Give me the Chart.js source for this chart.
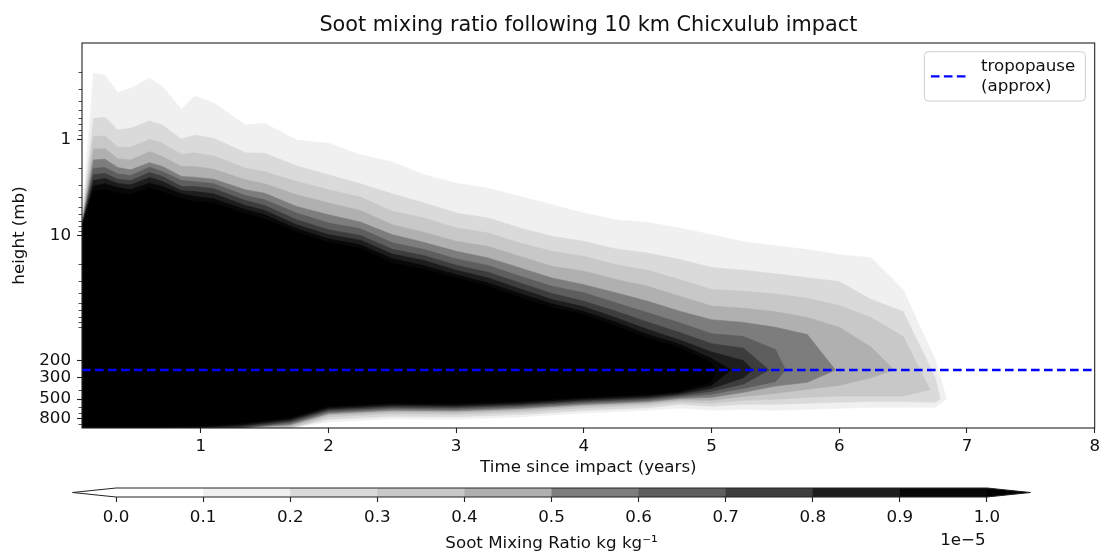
<!DOCTYPE html>
<html>
<head>
<meta charset="utf-8">
<script src="https://cdn.jsdelivr.net/npm/chart.js@4.4.1/dist/chart.umd.min.js"></script>
<style>
  html, body { margin: 0; padding: 0; background: #fff; }
  #wrap { position: relative; width: 1104px; height: 554px; }
  #main { position: absolute; left: 0; top: 0; }
  #cbar { position: absolute; left: 0; top: 480px; }
</style>
</head>
<body>
<div id="wrap">
  <canvas id="main" width="1104" height="480"></canvas>
  <canvas id="cbar" width="1104" height="74"></canvas>
</div>
<script>
// ======================= DATA =======================
// time grid for the upper contour edges (years) and pressures (mb) of each level
const years = [0.07, 0.16, 0.25, 0.35, 0.45, 0.6, 0.7, 0.85, 0.95, 1.1, 1.35, 1.5, 1.75, 2.0, 2.25, 2.5, 2.75,
  3.0, 3.25, 3.5, 3.75, 4.0, 4.25, 4.5, 4.75, 5.0, 5.25, 5.5, 5.75, 6.0, 6.25, 6.5, 6.75];

const top01 = [6.6, 0.207, 0.216, 0.329, 0.296, 0.233, 0.285, 0.489, 0.356, 0.418, 0.711, 0.683, 1.02, 1.10, 1.45, 1.72, 2.34,
  2.86, 3.22, 3.93, 4.80, 5.85, 6.86, 7.32, 8.36, 9.81, 11.6, 12.8, 14.0, 15.8, 17.0, 36.5, 194];
const top02 = [6.9, 0.606, 0.592, 0.801, 0.769, 0.646, 0.711, 1.0, 0.909, 0.976, 1.38, 1.40, 1.89, 2.34, 2.90, 3.69, 4.60,
  5.85, 6.59, 8.36, 10.2, 11.5, 13.8, 15.2, 17.8, 21.5, 23.0, 25.0, 27.5, 30.1, 46.3, 61.6, 298];
const top03 = [7.2, 0.940, 0.924, 1.21, 1.21, 1.0, 1.10, 1.44, 1.38, 1.49, 2.00, 2.17, 2.75, 3.35, 3.99, 5.60, 6.59,
  8.36, 9.42, 12.0, 14.6, 16.5, 20.1, 23.0, 28.7, 36.5, 38.0, 40.5, 45.0, 53.4, 71.6, 112];
const top04 = [7.4, 1.27, 1.25, 1.60, 1.64, 1.345, 1.51, 1.92, 1.92, 2.05, 2.64, 2.90, 3.78, 4.60, 5.50, 7.73, 9.29,
  11.5, 13.0, 16.5, 20.9, 23.5, 28.7, 33.7, 42.8, 54.0, 57.0, 62.0, 71.0, 90.0, 145];
const top05 = [7.6, 1.64, 1.61, 1.97, 2.08, 1.75, 1.92, 2.44, 2.48, 2.60, 3.35, 3.63, 4.99, 6.09, 7.25, 9.81, 11.8,
  14.6, 17.1, 21.7, 27.6, 32.4, 39.4, 48.2, 61.2, 75.0, 80.0, 90.0, 107];
const top06 = [7.75, 2.00, 1.97, 2.30, 2.38, 1.95, 2.17, 2.69, 2.75, 2.90, 3.84, 4.26, 5.85, 7.42, 8.50, 11.9, 14.0,
  17.5, 20.5, 26.5, 33.7, 39.4, 50.1, 63.5, 80.7, 105, 112, 153];
const top07 = [7.85, 2.34, 2.27, 2.60, 2.69, 2.22, 2.44, 3.10, 3.10, 3.27, 4.33, 4.88, 6.86, 8.71, 9.98, 13.9, 16.2,
  20.4, 24.1, 31.1, 40.1, 48.2, 61.2, 79.5, 102, 133, 148];
const top08 = [7.95, 2.69, 2.56, 2.88, 2.98, 2.50, 2.75, 3.43, 3.49, 3.69, 4.88, 5.50, 7.73, 9.81, 11.2, 15.6, 18.2,
  23.0, 27.6, 35.9, 46.3, 55.1, 71.6, 94.6, 122, 162, 200];
const top09 = [8.05, 3.05, 2.90, 3.17, 3.35, 2.86, 3.10, 3.71, 3.93, 4.16, 5.40, 6.09, 8.50, 10.9, 12.5, 17.4, 20.6,
  25.5, 31.1, 40.4, 51.3, 61.6, 79.5, 107, 135, 190];
const top10 = [8.11, 3.49, 3.35, 3.63, 3.78, 3.22, 3.54, 4.13, 4.43, 4.60, 5.94, 6.75, 9.29, 11.8, 13.6, 19.4, 22.6,
  27.6, 33.7, 44.4, 56.4, 66.2, 87.5, 117, 147, 210];

// right-hand tip of each contour [years, mb]
const tip01 = [6.84, 500];
const tip02 = [6.79, 500];
const tip03 = [6.71, 400];
const tip04 = [6.43, 250];
const tip05 = [5.97, 250];
const tip06 = [5.58, 250];
const tip07 = [5.45, 250];
const tip08 = [5.32, 250];
const tip09 = [5.15, 250];
const tip10 = [5.03, 250];

// time grid for the lower contour edges (years) and pressures (mb)
const botYears = [0.07, 0.9, 1.3, 1.7, 2.0, 2.5, 3.0, 3.5, 4.0, 4.5, 4.75, 5.0, 5.25, 5.5, 5.75, 6.0, 6.25, 6.5, 6.75];

const bot01 = [1000, 1000, 1000, 1000, 864, 801, 810, 768, 697, 653, 620, 654, 638, 654, 638, 624, 609, 609, 609];
const bot02 = [1000, 1000, 1000, 1000, 814, 755, 763, 723, 657, 615, 570, 594, 567, 567, 553, 540, 530, 530, 540];
const bot03 = [1000, 1000, 1000, 1000, 767, 711, 719, 681, 619, 580, 537, 553, 515, 503, 480, 465, 465, 465];
const bot04 = [1000, 1000, 1000, 958, 731, 678, 685, 649, 590, 553, 512, 515, 470, 436, 396, 360, 300];
const bot05 = [1000, 1000, 1000, 924, 706, 654, 661, 627, 569, 533, 494, 480, 426, 366, 335];
const bot06 = [1000, 1000, 1000, 892, 681, 631, 638, 605, 549, 515, 477, 446, 387, 330];
const bot07 = [1000, 1000, 993, 860, 657, 609, 615, 583, 530, 496, 460, 416, 350];
const bot08 = [1000, 1000, 958, 830, 634, 587, 594, 563, 511, 479, 444, 387, 300];
const bot09 = [1000, 992, 924, 801, 611, 567, 573, 543, 493, 462, 428, 360];
const bot10 = [1000, 958, 892, 773, 590, 547, 553, 524, 476, 446, 413, 335];

const levels = [0.1, 0.2, 0.3, 0.4, 0.5, 0.6, 0.7, 0.8, 0.9, 1.0];
const levelColors = ['#f0f0f0', '#dadada', '#c8c8c8', '#b0b0b0', '#7d7d7d', '#5e5e5e', '#3d3d3d', '#1d1d1d', '#080808', '#000000'];

const tropopause = 250; // mb

const xTicks = [1, 2, 3, 4, 5, 6, 7, 8];
const yTicks = [1, 10, 200, 300, 500, 800];
const yTickLabels = ['1', '10', '200', '300', '500', '800'];
const yMinor = [0.2, 0.3, 0.4, 0.5, 0.6, 0.7, 0.8, 0.9, 2, 3, 4, 5, 6, 7, 8, 9,
  20, 30, 40, 50, 60, 70, 80, 90, 400, 600, 700, 900];

// colorbar
const cbTicks = [0, 0.1, 0.2, 0.3, 0.4, 0.5, 0.6, 0.7, 0.8, 0.9, 1.0];
const cbTickLabels = ['0.0', '0.1', '0.2', '0.3', '0.4', '0.5', '0.6', '0.7', '0.8', '0.9', '1.0'];
const cbColors = ['#ffffff', '#f0f0f0', '#dadada', '#c8c8c8', '#b0b0b0', '#7d7d7d', '#5e5e5e', '#3d3d3d', '#1d1d1d', '#080808'];
const cbUnder = '#ffffff';
const cbOver = '#000000';
const extendFrac = 0.05;

// ======================= HELPERS =======================
const FONT = 'DejaVu Sans';
const TXT = '#111';
const TITLE = 'Soot mixing ratio following 10 km Chicxulub impact';

function outline(top, bot, tip) {
    const pts = [];
    top.forEach((p, i) => { if (p != null) pts.push({ x: years[i], y: p }); });
    pts.push({ x: tip[0], y: tip[1] });
    for (let j = bot.length - 1; j >= 0; j--) pts.push({ x: botYears[j], y: bot[j] });
    return pts;
}

const tops = [top01, top02, top03, top04, top05, top06, top07, top08, top09, top10];
const bots = [bot01, bot02, bot03, bot04, bot05, bot06, bot07, bot08, bot09, bot10];
const tipList = [tip01, tip02, tip03, tip04, tip05, tip06, tip07, tip08, tip09, tip10];

// darkest first, so the lightest is painted underneath
const contourSets = levels.map((lv, k) => ({
    label: 'level ' + lv,
    data: outline(tops[k], bots[k], tipList[k]),
    fill: 'shape',
    backgroundColor: levelColors[k],
    borderColor: levelColors[k],
    borderWidth: 0.6,
    pointRadius: 0,
    tension: 0
})).reverse();

const tropoSet = {
    label: 'tropopause\n(approx)',
    data: [{ x: 0.07, y: tropopause }, { x: 8, y: tropopause }],
    borderColor: '#0000ff',
    borderWidth: 2.4,
    borderDash: [8.6, 4.4],
    pointRadius: 0,
    fill: false
};

// ======================= MAIN PLOT EXTRAS =======================
const framePlugin = {
    id: 'frame',
    afterDraw(chart) {
        const { ctx, chartArea: a, scales: { y } } = chart;
        ctx.save();
        // minor ticks on log axis
        ctx.strokeStyle = '#222';
        ctx.lineWidth = 0.8;
        yMinor.forEach(v => {
            const py = Math.round(y.getPixelForValue(v)) + 0.5;
            ctx.beginPath();
            ctx.moveTo(a.left - 3.5, py);
            ctx.lineTo(a.left, py);
            ctx.stroke();
        });
        // frame
        ctx.lineWidth = 1.1;
        ctx.strokeRect(a.left, a.top, a.right - a.left, a.bottom - a.top);

        // title, centred over the plot area
        ctx.fillStyle = TXT;
        ctx.font = '20.8px "' + FONT + '"';
        ctx.textAlign = 'center';
        ctx.textBaseline = 'middle';
        ctx.fillText(TITLE, (a.left + a.right) / 2, 26);

        // legend
        const bx = a.right - 170.3, by = a.top + 8.7, bw = 161, bh = 49.3;
        ctx.beginPath();
        ctx.roundRect(bx, by, bw, bh, 4);
        ctx.fillStyle = 'rgba(255,255,255,0.85)';
        ctx.fill();
        ctx.strokeStyle = '#d0d0d0';
        ctx.lineWidth = 1;
        ctx.stroke();

        const ly = by + bh / 2;
        ctx.beginPath();
        ctx.setLineDash(tropoSet.borderDash);
        ctx.strokeStyle = tropoSet.borderColor;
        ctx.lineWidth = tropoSet.borderWidth;
        ctx.moveTo(bx + 6.5, ly);
        ctx.lineTo(bx + 41.5, ly);
        ctx.stroke();
        ctx.setLineDash([]);

        ctx.fillStyle = TXT;
        ctx.font = '16.7px "' + FONT + '"';
        ctx.textAlign = 'left';
        ctx.textBaseline = 'middle';
        tropoSet.label.split('\n').forEach((line, i) => {
            ctx.fillText(line, bx + 56.5, by + 15 + i * 19.5);
        });
        ctx.restore();
    }
};

const mainChart = new Chart(document.getElementById('main'), {
    type: 'line',
    data: { datasets: [tropoSet, ...contourSets] },
    options: {
        responsive: false,
        animation: false,
        events: [],
        layout: { padding: { top: 43, right: 7, bottom: 0, left: 0 } },
        plugins: {
            legend: { display: false },
            tooltip: { enabled: false },
            title: { display: false }
        },
        scales: {
            x: {
                type: 'linear',
                min: 0.07,
                max: 8,
                afterBuildTicks: s => { s.ticks = xTicks.map(v => ({ value: v })); },
                afterFit: s => { s.height = 52; },
                grid: { drawOnChartArea: false, tickLength: 5, tickColor: '#222', tickWidth: 1.1 },
                border: { display: false },
                ticks: {
                    autoSkip: false, maxRotation: 0, padding: 4, color: TXT,
                    font: { family: FONT, size: 16.7 },
                    callback: v => String(v)
                },
                title: {
                    display: true, text: 'Time since impact (years)', color: TXT,
                    font: { family: FONT, size: 16.7 }, padding: { top: 0, bottom: 2 }
                }
            },
            y: {
                type: 'logarithmic',
                reverse: true,
                min: 0.1,
                max: 1000,
                afterBuildTicks: s => { s.ticks = yTicks.map(v => ({ value: v })); },
                afterFit: s => { s.width = 82; },
                grid: { drawOnChartArea: false, tickLength: 5, tickColor: '#222', tickWidth: 1.1 },
                border: { display: false },
                ticks: {
                    autoSkip: false, padding: 6, color: TXT,
                    font: { family: FONT, size: 16.7 },
                    callback: (v, i) => yTickLabels[i]
                },
                title: {
                    display: true, text: 'height (mb)', color: TXT,
                    font: { family: FONT, size: 16.7 }, padding: { top: 10, bottom: 0 }
                }
            }
        }
    },
    plugins: [framePlugin]
});

// ======================= COLORBAR =======================
const cbSets = [];
const lo0 = cbTicks[0], hi0 = cbTicks[cbTicks.length - 1];

// outline drawn on top
cbSets.push({
    data: [{ x: lo0 - extendFrac, y: 0.5 }, { x: lo0, y: 0 }, { x: hi0, y: 0 }, { x: hi0 + extendFrac, y: 0.5 },
           { x: hi0, y: 1 }, { x: lo0, y: 1 }, { x: lo0 - extendFrac, y: 0.5 }],
    borderColor: '#222', borderWidth: 1, pointRadius: 0, fill: false, clip: false
});
// each band is filled from its lower bound to the top of the bar, darker ones on top,
// like the nested contours, so no seams show between neighbours
for (let k = cbColors.length - 1; k >= 0; k--) {
    const lo = cbTicks[k];
    cbSets.push({
        data: [{ x: lo, y: 0 }, { x: hi0, y: 0 }, { x: hi0, y: 1 }, { x: lo, y: 1 }, { x: lo, y: 0 }],
        fill: 'shape', backgroundColor: cbColors[k], borderColor: 'rgba(0,0,0,0)', borderWidth: 0,
        pointRadius: 0, clip: 0
    });
}
cbSets.push({
    data: [{ x: lo0, y: 0 }, { x: lo0 - extendFrac, y: 0.5 }, { x: lo0, y: 1 }],
    fill: 'shape', backgroundColor: cbUnder, borderColor: 'rgba(0,0,0,0)', borderWidth: 0, pointRadius: 0
});
cbSets.push({
    data: [{ x: hi0, y: 0 }, { x: hi0 + extendFrac, y: 0.5 }, { x: hi0, y: 1 }],
    fill: 'shape', backgroundColor: cbOver, borderColor: 'rgba(0,0,0,0)', borderWidth: 0, pointRadius: 0
});

const offsetPlugin = {
    id: 'offsetText',
    afterDraw(chart) {
        const { ctx, scales: { x } } = chart;
        ctx.save();
        ctx.fillStyle = TXT;
        ctx.font = '16.7px "' + FONT + '"';
        ctx.textAlign = 'center';
        ctx.textBaseline = 'middle';
        ctx.fillText('1e\u22125', x.getPixelForValue(hi0) - 24, 61);
        ctx.restore();
    }
};

const cbChart = new Chart(document.getElementById('cbar'), {
    type: 'line',
    data: { datasets: cbSets },
    options: {
        responsive: false,
        animation: false,
        events: [],
        layout: { padding: { top: 8, right: 73.5, bottom: 0, left: 72.5 } },
        plugins: { legend: { display: false }, tooltip: { enabled: false } },
        scales: {
            x: {
                type: 'linear',
                min: lo0 - extendFrac,
                max: hi0 + extendFrac,
                afterBuildTicks: s => { s.ticks = cbTicks.map(v => ({ value: v })); },
                afterFit: s => { s.height = 57; },
                grid: { drawOnChartArea: false, tickLength: 5, tickColor: '#222', tickWidth: 1.1 },
                border: { display: false },
                ticks: {
                    autoSkip: false, maxRotation: 0, padding: 6, color: TXT,
                    font: { family: FONT, size: 16.7 },
                    callback: (v, i) => cbTickLabels[i]
                },
                title: {
                    display: true, text: 'Soot Mixing Ratio kg kg\u207B\u00B9', color: TXT,
                    font: { family: FONT, size: 16.7 }, padding: { top: 0, bottom: 0 }
                }
            },
            y: { display: false, min: 0, max: 1 }
        }
    },
    plugins: [offsetPlugin]
});
</script>
</body>
</html>
